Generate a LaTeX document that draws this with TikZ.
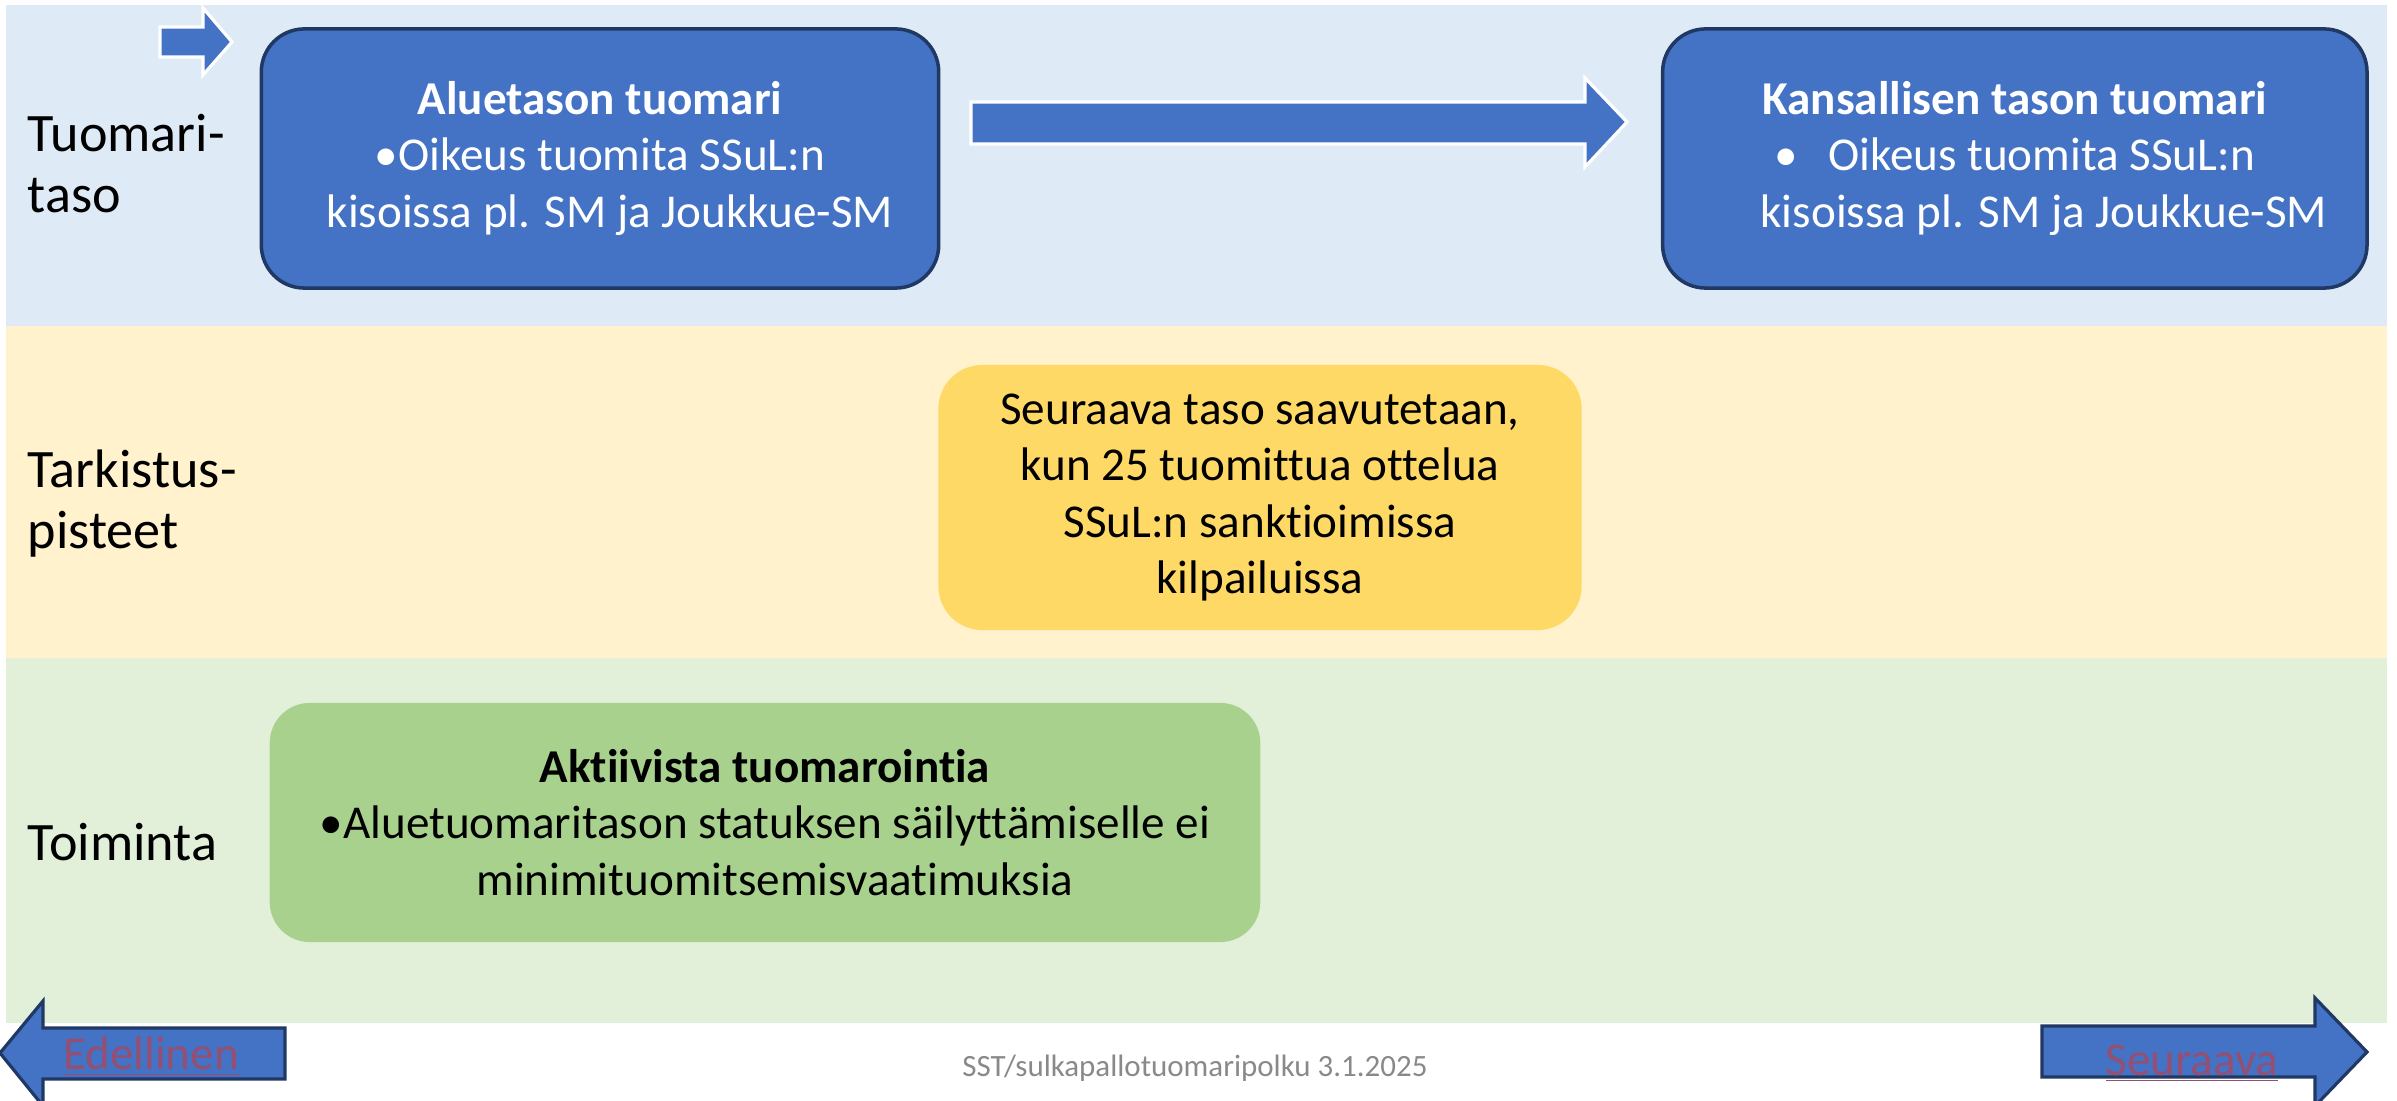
\documentclass[tikz,border=0pt]{standalone}
\usepackage{fontspec}
\setmainfont{Carlito}[Ligatures=NoCommon]
\usetikzlibrary{arrows}

\definecolor{bandblue}{HTML}{DEEBF7}
\definecolor{bandyellow}{HTML}{FFF2CC}
\definecolor{bandgreen}{HTML}{E2F0D9}
\definecolor{boxblue}{HTML}{4472C4}
\definecolor{boxedge}{HTML}{1F3864}
\definecolor{checkyellow}{HTML}{FFD966}
\definecolor{actgreen}{HTML}{A9D18E}
\definecolor{linkred}{HTML}{954F72}
\definecolor{footgray}{HTML}{898989}

\begin{document}
\begin{tikzpicture}[x=0.01cm,y=-0.01cm,node distance=14.14cm,
  level node/.style={rectangle,rounded corners=0.43cm,fill=boxblue,draw=boxedge,line width=1pt,
    text=white,align=center,minimum height=2.59cm,font=\fontsize{13.4}{16.1}\selectfont},
  check node/.style={rectangle,rounded corners=0.44cm,fill=checkyellow,align=center,
    minimum width=6.43cm,minimum height=2.65cm,font=\fontsize{13.4}{16.1}\selectfont},
  act node/.style={rectangle,rounded corners=0.4cm,fill=actgreen,align=center,
    minimum width=9.9cm,minimum height=2.39cm,font=\fontsize{13.4}{16.1}\selectfont},
  side node/.style={align=left,inner sep=0pt,font=\fontsize{15.4}{17.4}\selectfont},
  link node/.style={inner sep=0pt,text=linkred,font=\fontsize{13.4}{16.1}\selectfont},
  block arrow/.style={fill=boxblue,draw=white,line width=0.9pt,line join=miter}]

 \useasboundingbox (0,0) rectangle (2397,1101);
 \fill[bandblue] (6,5) rectangle (2387,326);
 \fill[bandyellow] (6,326) rectangle (2387,658);
 \fill[bandgreen] (6,658) rectangle (2387,1023);

 \node[side node,anchor=base west] (taso) at (27,213) {Tuomari-\\taso};
 \node[side node,anchor=base west] (pisteet) at (27,549) {Tarkistus-\\pisteet};
 \node[side node,anchor=base west] (toiminta) at (27,860) {Toiminta};

 \node[level node,minimum width=6.77cm] (alue) at (600,158.5)
   {\textbf{Aluetason tuomari}\\•Oikeus tuomita SSuL:n\\\hspace*{0.2cm}kisoissa pl. SM ja Joukkue-SM};
 \node[level node,minimum width=7.04cm] (kansallinen) [right of=alue]
   {\textbf{Kansallisen tason tuomari}\\•\hspace{0.3cm}Oikeus tuomita SSuL:n\\\hspace*{0.58cm}kisoissa pl. SM ja Joukkue-SM};
 \node[check node] (tarkistus) at (1260,497.5)
   {Seuraava taso saavutetaan,\\kun 25 tuomittua ottelua\\SSuL:n sanktioimissa\\kilpailuissa};
 \node[act node] (aktiivi) at (765,822.5)
   {\textbf{Aktiivista tuomarointia}\\•Aluetuomaritason statuksen säilyttämiselle ei\\\hspace*{0.2cm}minimituomitsemisvaatimuksia};

 \draw[block arrow] (160,27) -- (203,27) -- (203,8) -- (232,42) -- (203,75) -- (203,57) -- (160,57) -- cycle;
 \draw[block arrow] (971,102) -- (1585,102) -- (1585,78) -- (1627,122) -- (1585,167) -- (1585,144) -- (971,144) -- cycle;
 \draw[block arrow,draw=boxedge] (285,1028) -- (43,1028) -- (43,1001) -- (0,1053) -- (43,1106) -- (43,1079) -- (285,1079) -- cycle;
 \draw[block arrow,draw=boxedge] (2042,1026) -- (2315,1026) -- (2315,998) -- (2367,1052) -- (2315,1106) -- (2315,1077) -- (2042,1077) -- cycle;

 \node[link node,anchor=base] (edellinen) at (151,1069) {\underline{Edellinen}};
 \node[link node,anchor=base] (seuraava) at (2192,1075) {\underline{Seuraava}};
 \node[inner sep=0pt,anchor=base,text=footgray,font=\fontsize{8.8}{10}\selectfont] (polku) at (1195,1077)
   {SST/sulkapallotuomaripolku 3.1.2025};

\end{tikzpicture}
\end{document}
